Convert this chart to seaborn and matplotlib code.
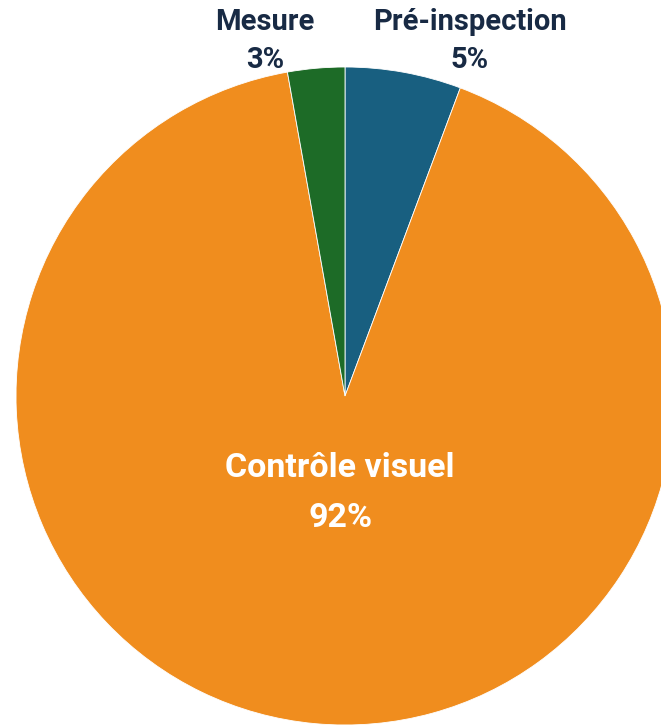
"""
Répartition des activités de contrôle — camembert.
"""

import matplotlib
matplotlib.use("Agg")
import matplotlib.pyplot as plt
import seaborn as sns

categories = ["Pré-inspection", "Contrôle visuel", "Mesure"]
shares     = [5.7, 91.5, 2.8]
pct_labels = ["5%", "92%", "3%"]
colors     = ["#185f80", "#f08d1e", "#1d6b27"]

sns.set_theme(style="white")
plt.rcParams["font.family"] = ["Roboto", "DejaVu Sans"]

W, H = 661, 725
fig = plt.figure(figsize=(W / 100, H / 100), dpi=100)
# pie centre at (345, 396) px, radius 329 px
R, cx, cy = 329, 345, 396
ax = fig.add_axes([(cx - R) / W, (H - cy - R) / H, 2 * R / W, 2 * R / H])

wedges, _ = ax.pie(
    shares,
    colors=colors,
    startangle=90,
    counterclock=False,
    radius=1,
    wedgeprops={"edgecolor": "white", "linewidth": 0.6},
)
ax.set_xlim(-1, 1)
ax.set_ylim(-1, 1)
ax.set_aspect("equal")
ax.axis("off")

dark = "#182a44"
fs_out = 21
fs_in = 24.5

# outside labels (small slices)
ax.text(0.38, 1.136, categories[0], ha="center", va="center",
        fontsize=fs_out, fontweight="bold", color=dark, clip_on=False)
ax.text(0.38, 1.02, pct_labels[0], ha="center", va="center",
        fontsize=fs_out, fontweight="bold", color=dark, clip_on=False)
ax.text(-0.243, 1.136, categories[2], ha="center", va="center",
        fontsize=fs_out, fontweight="bold", color=dark, clip_on=False)
ax.text(-0.243, 1.02, pct_labels[2], ha="center", va="center",
        fontsize=fs_out, fontweight="bold", color=dark, clip_on=False)

# inside label (big slice)
ax.text(-0.015, -0.22, categories[1], ha="center", va="center",
        fontsize=fs_in, fontweight="bold", color="white")
ax.text(-0.015, -0.37, pct_labels[1], ha="center", va="center",
        fontsize=fs_in, fontweight="bold", color="white")

fig.savefig("out.png", dpi=100)
plt.close(fig)
